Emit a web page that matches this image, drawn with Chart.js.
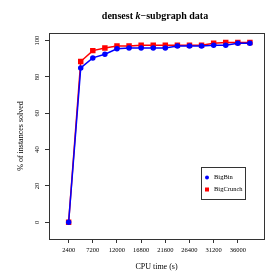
<!DOCTYPE html>
<html>
<head>
<meta charset="utf-8">
<title>densest k-subgraph data</title>
<script src="https://cdn.jsdelivr.net/npm/chart.js@4/dist/chart.umd.min.js"></script>
<style>
  body { margin: 0; background: #fff; }
  canvas { display: block; }
</style>
</head>
<body>
<canvas id="chart" width="280" height="280"></canvas>
<script>
// datos
var cpuTime = [2400, 4800, 7200, 9600, 12000, 14400, 16800, 19200, 21600, 24000, 26400, 28800, 31200, 33600, 36000, 38400];
var bigBin = [0, 85, 90.5, 92.5, 95.5, 96, 96, 96, 96, 97, 97, 97, 97.5, 97.5, 98.5, 98.5];
var bigCrunch = [0, 88.5, 94.5, 96, 97, 97, 97.5, 97.5, 97.5, 97.5, 97.5, 97.5, 98.5, 99, 99, 99];
var xTicks = [2400, 7200, 12000, 16800, 21600, 26400, 31200, 36000];
var yTicks = [0, 20, 40, 60, 80, 100];

var serif = "'Liberation Serif', 'DejaVu Serif', serif";
var ink = '#333';

function toPoints(xs, ys) {
    return xs.map(function (x, i) { return { x: x, y: ys[i] }; });
}

// titulo con la k en cursiva
var titlePlugin = {
    id: 'rTitle',
    afterDraw: function (chart) {
        var ctx = chart.ctx;
        var parts = [
            ['densest ', 'bold 10px ' + serif],
            ['k', 'italic bold 10px ' + serif],
            ['\u2212subgraph data', 'bold 10px ' + serif]
        ];
        ctx.save();
        ctx.fillStyle = '#000';
        ctx.textBaseline = 'middle';
        var total = 0;
        parts.forEach(function (p) { ctx.font = p[1]; total += ctx.measureText(p[0]).width; });
        var x = 155 - total / 2;
        parts.forEach(function (p) {
            ctx.font = p[1];
            ctx.fillText(p[0], x, 16);
            x += ctx.measureText(p[0]).width;
        });
        ctx.restore();
    }
};

// caja alrededor del area y leyenda dentro
var boxPlugin = {
    id: 'rBox',
    afterDraw: function (chart) {
        var ctx = chart.ctx;
        var a = chart.chartArea;
        ctx.save();
        ctx.strokeStyle = ink;
        ctx.lineWidth = 1;
        ctx.strokeRect(Math.round(a.left) + 0.5, Math.round(a.top) + 0.5,
            Math.round(a.right - a.left), Math.round(a.bottom - a.top));

        // leyenda
        ctx.strokeRect(201.5, 167.5, 44, 32);
        ctx.font = '6.5px ' + serif;
        ctx.textBaseline = 'middle';
        ctx.fillStyle = '#000';
        chart.data.datasets.forEach(function (ds, i) {
            var y = 177.5 + i * 12;
            ctx.fillStyle = ds.pointBackgroundColor;
            if (ds.pointStyle === 'rect') {
                ctx.fillRect(205, y - 2, 4, 4);
            } else {
                ctx.beginPath();
                ctx.arc(207, y, 2, 0, Math.PI * 2);
                ctx.fill();
            }
            ctx.fillStyle = '#000';
            ctx.fillText(ds.label, 214, y);
        });
        ctx.restore();
    }
};

var ctx = document.getElementById('chart').getContext('2d');
var myChart = new Chart(ctx, {
    type: 'line',
    data: {
        datasets: [{
            label: 'BigBin',
            data: toPoints(cpuTime, bigBin),
            borderColor: '#0000ff',
            backgroundColor: '#0000ff',
            pointBackgroundColor: '#0000ff',
            pointBorderColor: '#0000ff',
            pointStyle: 'circle',
            pointRadius: 2,
            borderWidth: 1.5,
            tension: 0
        }, {
            label: 'BigCrunch',
            data: toPoints(cpuTime, bigCrunch),
            borderColor: '#ff0000',
            backgroundColor: '#ff0000',
            pointBackgroundColor: '#ff0000',
            pointBorderColor: '#ff0000',
            pointStyle: 'rect',
            pointRadius: 2.8,
            borderWidth: 1.5,
            tension: 0
        }]
    },
    options: {
        responsive: false,
        animation: false,
        devicePixelRatio: 1,
        layout: { padding: { top: 33, right: 16, left: 0, bottom: 0 } },
        plugins: {
            legend: { display: false },
            title: { display: false },
            tooltip: { enabled: false }
        },
        scales: {
            x: {
                type: 'linear',
                min: -1500,
                max: 41200,
                afterBuildTicks: function (scale) {
                    scale.ticks = xTicks.map(function (v) { return { value: v }; });
                },
                afterFit: function (scale) { scale.height = 41; },
                grid: { drawOnChartArea: false, drawTicks: true, tickLength: 4, color: ink },
                border: { display: false },
                ticks: {
                    autoSkip: false,
                    maxRotation: 0,
                    padding: 3,
                    color: '#000',
                    font: { family: serif, size: 6.5 },
                    callback: function (v) { return String(v); }
                },
                title: {
                    display: true,
                    text: 'CPU time (s)',
                    color: '#000',
                    font: { family: serif, size: 8 },
                    padding: { top: 0, bottom: 8.5 }
                }
            },
            y: {
                type: 'linear',
                min: -9.2,
                max: 104.2,
                afterBuildTicks: function (scale) {
                    scale.ticks = yTicks.map(function (v) { return { value: v }; });
                },
                afterFit: function (scale) { scale.width = 49; },
                grid: { drawOnChartArea: false, drawTicks: true, tickLength: 4, color: ink },
                border: { display: false },
                ticks: {
                    autoSkip: false,
                    minRotation: 90,
                    maxRotation: 90,
                    crossAlign: 'center',
                    padding: 3,
                    color: '#000',
                    font: { family: serif, size: 6.5 },
                    callback: function (v) { return String(v); }
                },
                title: {
                    display: true,
                    text: '% of instances solved',
                    color: '#000',
                    font: { family: serif, size: 8 },
                    padding: { top: 16, bottom: 0 }
                }
            }
        }
    },
    plugins: [titlePlugin, boxPlugin]
});
</script>
</body>
</html>
